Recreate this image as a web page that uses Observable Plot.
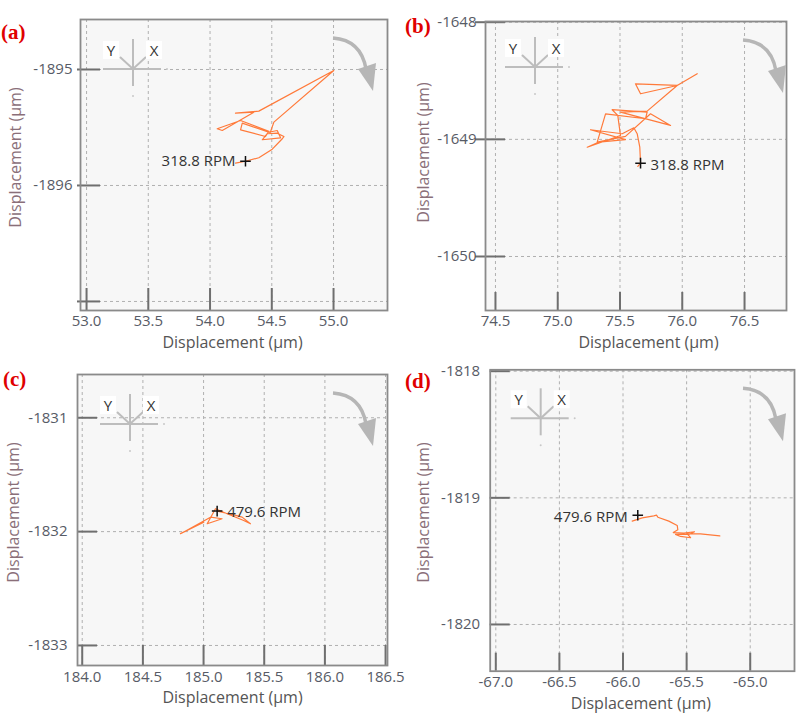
<!DOCTYPE html>
<html><head><meta charset="utf-8">
<script src="https://cdn.jsdelivr.net/npm/d3@7"></script>
<script src="https://cdn.jsdelivr.net/npm/@observablehq/plot@0.6"></script>
<style>
body{margin:0;background:#fff;}
#wrap{position:relative;width:797px;height:713px;font-family:"Open Sans",sans-serif;overflow:hidden;}
.panel{position:absolute;}
.tag{position:absolute;font-family:"Liberation Serif","Times New Roman",serif;font-weight:bold;color:#e00000;font-size:21px;line-height:1;}
</style></head><body><div id="wrap"></div>
<script>
// ---- data ----
const aX = [54.206,54.287,54.395,54.504,54.585,54.598,54.544,54.463,54.423,54.571,54.544,54.476,54.261,54.247,54.449,54.476,54.247,54.058,54.099,54.355,54.206,54.395,55.002,54.517,54.484];
const aY = [-1895.808,-1895.791,-1895.761,-1895.687,-1895.597,-1895.578,-1895.549,-1895.554,-1895.606,-1895.589,-1895.526,-1895.541,-1895.463,-1895.520,-1895.578,-1895.532,-1895.440,-1895.511,-1895.526,-1895.368,-1895.377,-1895.359,-1895.009,-1895.454,-1895.554];
const bX = [75.643,75.665,75.659,75.638,75.611,75.518,75.263,75.544,75.330,75.237,75.504,75.482,75.437,75.718,75.705,75.384,75.317,75.544,75.745,75.906,75.504,75.718,75.959,75.624,75.665,75.959,76.120];
const bY = [-1649.231,-1649.203,-1649.067,-1648.952,-1648.901,-1648.952,-1648.918,-1649.003,-1649.024,-1649.067,-1648.967,-1648.796,-1648.747,-1648.768,-1648.824,-1648.782,-1649.024,-1648.975,-1648.782,-1648.881,-1648.768,-1648.759,-1648.540,-1648.526,-1648.611,-1648.540,-1648.440];
const cX = [184.810,185.002,184.837,185.057,185.153,185.030,185.098,185.194,185.331,185.386,185.318,185.236,185.112];
const cY = [-1832.018,-1831.917,-1832.004,-1831.873,-1831.887,-1831.931,-1831.799,-1831.843,-1831.902,-1831.931,-1831.873,-1831.849,-1831.820];
const dX = [-65.928,-65.849,-65.758,-65.737,-65.726,-65.640,-65.574,-65.569,-65.605,-65.522,-65.438,-65.483,-65.587,-65.548,-65.469,-65.495,-65.391,-65.239];
const dY = [-1819.184,-1819.158,-1819.142,-1819.137,-1819.153,-1819.184,-1819.218,-1819.252,-1819.274,-1819.279,-1819.268,-1819.289,-1819.289,-1819.305,-1819.315,-1819.284,-1819.284,-1819.300];

const aMarker = [54.287, -1895.791];
const bMarker = [75.665, -1649.203];
const cMarker = [185.112, -1831.820];
const dMarker = [-65.884, -1819.137];

const aSpeed = "318.8 RPM";
const bSpeed = "318.8 RPM";
const cSpeed = "479.6 RPM";
const dSpeed = "479.6 RPM";

const aXTicks = [53.0, 53.5, 54.0, 54.5, 55.0];
const aYTicks = [-1895, -1896, -1897];
const aYLabels = [-1895, -1896];
const bXTicks = [74.5, 75.0, 75.5, 76.0, 76.5];
const bYTicks = [-1648, -1649, -1650];
const bYLabels = [-1648, -1649, -1650];
const cXTicks = [184.0, 184.5, 185.0, 185.5, 186.0, 186.5];
const cYTicks = [-1831, -1832, -1833];
const cYLabels = [-1831, -1832, -1833];
const dXTicks = [-67.0, -66.5, -66.0, -65.5, -65.0];
const dYTicks = [-1818, -1819, -1820];
const dYLabels = [-1818, -1819, -1820];

const panelTags = ["(a)", "(b)", "(c)", "(d)"];
const axisTitle = "Displacement (μm)";

// ---- layout ----
const panels = [
  {tag: panelTags[0], tagPos: [1, 22], left: 0, top: 0, width: 398, height: 360,
   ml: 80, mr: 11, mt: 19, mb: 50,
   xDomain: [52.951, 55.437], yDomain: [-1897.078, -1894.569],
   xs: aX, ys: aY, marker: aMarker, speed: aSpeed, xTicks: aXTicks, yTicks: aYTicks, yLabels: aYLabels,
   spAnchor: "end", spDx: -10, spDy: 0,
   yIn: -3, xLen: 22, xPad: 5, yPad: 8,
   ytDx: -65, ytDy: -7.5, xtDx: -1.5, xtDy: 32.5, icon: [53, 50], arrowDx: 0},
  {tag: panelTags[1], tagPos: [405, 16], left: 398, top: 0, width: 399, height: 360,
   ml: 87, mr: 11, mt: 21, mb: 50,
   xDomain: [74.42, 76.837], yDomain: [-1650.461, -1647.994],
   xs: bX, ys: bY, marker: bMarker, speed: bSpeed, xTicks: bXTicks, yTicks: bYTicks, yLabels: bYLabels,
   spAnchor: "start", spDx: 10, spDy: 2,
   yIn: -10, xLen: 18, xPad: 5, yPad: 9,
   ytDx: -62, ytDy: -13.5, xtDx: 12.5, xtDy: 32.5, icon: [50, 46], arrowDx: 11},
  {tag: panelTags[2], tagPos: [3, 369], left: 0, top: 360, width: 398, height: 353,
   ml: 77, mr: 11, mt: 14, mb: 48,
   xDomain: [183.961, 186.516], yDomain: [-1833.176, -1830.62],
   xs: cX, ys: cY, marker: cMarker, speed: cSpeed, xTicks: cXTicks, yTicks: cYTicks, yLabels: cYLabels,
   spAnchor: "start", spDx: 10, spDy: 1,
   yIn: 0, xLen: 20, xPad: 6, yPad: 10,
   ytDx: -64, ytDy: -7.5, xtDx: 0, xtDy: 32.5, icon: [53, 50], arrowDx: 0},
  {tag: panelTags[3], tagPos: [405, 371], left: 398, top: 360, width: 399, height: 353,
   ml: 91.7, mr: 3, mt: 9.3, mb: 42.3,
   xDomain: [-67.044, -64.652], yDomain: [-1820.369, -1817.989],
   xs: dX, ys: dY, marker: dMarker, speed: dSpeed, xTicks: dXTicks, yTicks: dYTicks, yLabels: dYLabels,
   spAnchor: "end", spDx: -10, spDy: 2,
   yIn: 0, xLen: 18, xPad: 5, yPad: 10,
   ytDx: -66.7, ytDy: -8, xtDx: -1.4, xtDy: 32.3, icon: [51, 49], arrowDx: 3}
];

const wrap = document.getElementById("wrap");

function decorate(svg, c) {
  const s = d3.select(svg);
  const fx0 = c.ml, fy0 = c.mt, fx1 = c.width - c.mr;
  // axis orientation icon
  const ic = s.append("g").attr("transform", `translate(${fx0 + c.icon[0]},${fy0 + c.icon[1]})`);
  const lines = ic.append("g").attr("stroke", "#bdbdbd").attr("stroke-width", 2).attr("fill", "none");
  lines.append("line").attr("x1", -30).attr("x2", 28).attr("y1", 0).attr("y2", 0);
  lines.append("line").attr("x1", 0).attr("x2", 0).attr("y1", -30).attr("y2", 17);
  lines.append("path").attr("d", "M-13,-12L0,0L13,-12");
  ic.append("circle").attr("cx", 34).attr("cy", 0).attr("r", 1).attr("fill", "#c8c8c8");
  ic.append("circle").attr("cx", 0).attr("cy", 27).attr("r", 1).attr("fill", "#c8c8c8");
  [["Y", -22], ["X", 21]].forEach(([t, x]) => {
    ic.append("rect").attr("x", x - 8).attr("y", -28).attr("width", 16).attr("height", 18).attr("fill", "#fff");
    ic.append("text").attr("x", x).attr("y", -13).attr("text-anchor", "middle")
      .attr("font-family", "Open Sans, sans-serif").attr("font-size", 15).attr("fill", "#333").text(t);
  });
  // rotation arrow
  const ar = s.append("g").attr("transform", `translate(${fx1 + c.arrowDx},${fy0})`);
  ar.append("path").attr("d", "M-54,19 Q-26,21 -21,50").attr("fill", "none")
    .attr("stroke", "#b6b6b6").attr("stroke-width", 3.5);
  ar.append("path").attr("d", "M-29,50 L-11,44 L-14,72 Z").attr("fill", "#b6b6b6");
}

panels.forEach(c => {
  const pts = c.xs.map((x, i) => ({x, y: c.ys[i]}));
  const mk = [{x: c.marker[0], y: c.marker[1], t: c.speed}];
  const iw = c.width - c.ml - c.mr, ih = c.height - c.mt - c.mb;
  const gridStyle = {stroke: "#b0b0b0", strokeOpacity: 1, strokeWidth: 1, strokeDasharray: "3,3"};
  const svg = Plot.plot({
    width: c.width, height: c.height,
    marginLeft: c.ml, marginRight: c.mr, marginTop: c.mt, marginBottom: c.mb,
    style: {fontFamily: "Open Sans, sans-serif", fontSize: "15px", color: "#575b66", background: "transparent", overflow: "visible"},
    x: {domain: c.xDomain},
    y: {domain: c.yDomain},
    marks: [
      Plot.frame({fill: "#f7f7f7", stroke: null}),
      Plot.gridX(c.xTicks, gridStyle),
      Plot.gridY(c.yTicks, gridStyle),
      Plot.tickY(c.yTicks, {stroke: "#6f6f6f", strokeWidth: 2, insetLeft: c.yIn, insetRight: iw - 20}),
      Plot.tickX(c.xTicks, {stroke: "#6f6f6f", strokeWidth: 2, insetTop: ih - c.xLen, insetBottom: 0}),
      Plot.axisX(c.xTicks, {tickSize: 0, tickPadding: c.xPad, tickFormat: d => d.toFixed(1), label: null, fontSize: 15, fill: "#575b66"}),
      Plot.axisY(c.yLabels, {tickSize: 0, tickPadding: c.yPad, tickFormat: d => String(d), label: null, fontSize: 15, fill: "#575b66"}),
      Plot.frame({stroke: "#8a8a8a", strokeWidth: 1.8}),
      Plot.line(pts, {x: "x", y: "y", stroke: "#ff7a3a", strokeWidth: 1.2}),
      Plot.dot(mk, {x: "x", y: "y", symbol: "plus", r: 3.5, stroke: "#111", strokeWidth: 1.5}),
      Plot.text(mk, {x: "x", y: "y", text: "t", textAnchor: c.spAnchor, dx: c.spDx, dy: c.spDy, fontSize: 15, fill: "#333"}),
      Plot.text([axisTitle], {frameAnchor: "bottom", text: d => d, textAnchor: "middle", lineAnchor: "middle", dx: c.xtDx, dy: c.xtDy, fontSize: 16, fill: "#555"}),
      Plot.text([axisTitle], {frameAnchor: "left", text: d => d, rotate: -90, textAnchor: "middle", lineAnchor: "middle", dx: c.ytDx, dy: c.ytDy, fontSize: 16, fill: "#8a6f79"})
    ]
  });
  decorate(svg, c);
  const div = document.createElement("div");
  div.className = "panel";
  div.style.left = c.left + "px";
  div.style.top = c.top + "px";
  div.appendChild(svg);
  wrap.appendChild(div);
  const tag = document.createElement("div");
  tag.className = "tag";
  tag.textContent = c.tag;
  tag.style.left = c.tagPos[0] + "px";
  tag.style.top = c.tagPos[1] + "px";
  wrap.appendChild(tag);
});
</script>
</body></html>
